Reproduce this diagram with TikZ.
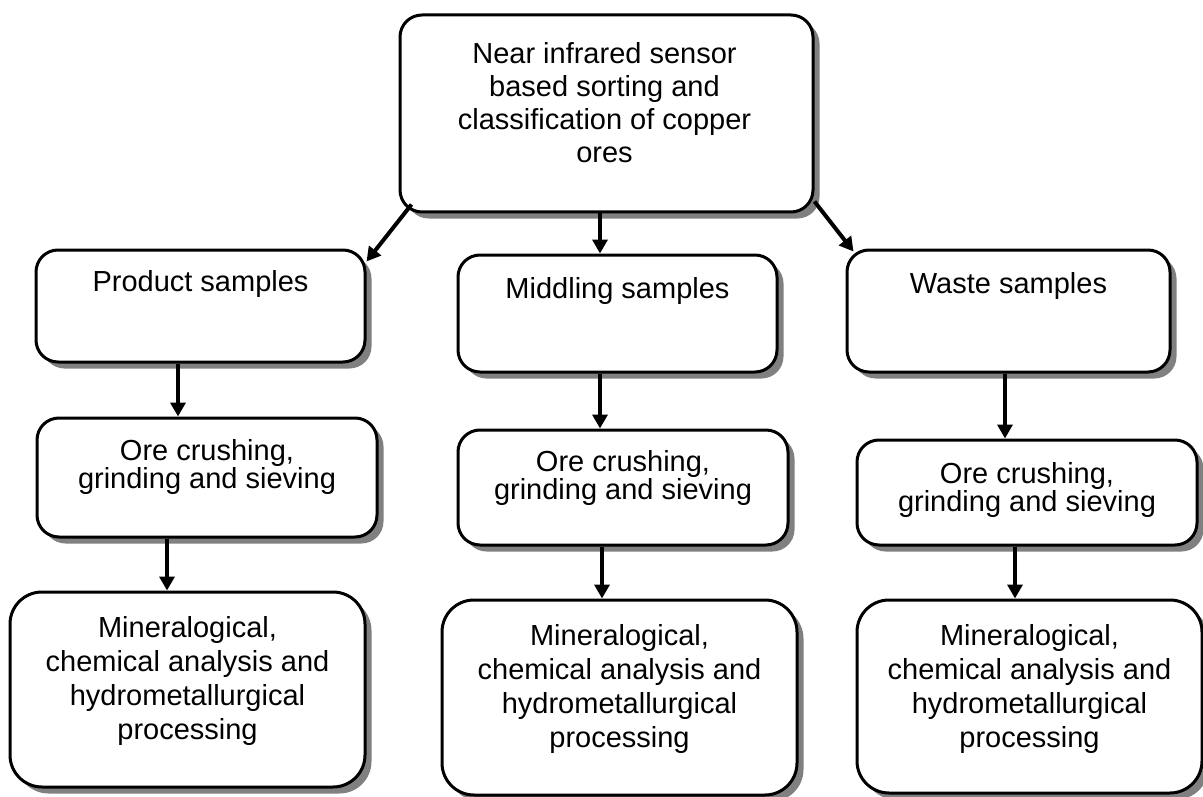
\documentclass[tikz,border=0pt]{standalone}
\usepackage{fontspec}
\setmainfont{Liberation Sans}
\usetikzlibrary{shadows,arrows.meta}
\begin{document}
\begin{tikzpicture}[x=1pt,y=-1pt,
  box/.style={draw, line width=3pt, rounded corners=22pt, fill=white, inner sep=0pt,
    drop shadow={shadow xshift=6.5pt, shadow yshift=-6.5pt, fill=black!50, opacity=1}},
  bigbox/.style={box, rounded corners=32pt},
  txt/.style={anchor=north, align=center, inner sep=0pt, font=\fontsize{29}{33}\selectfont},
  txtc/.style={txt, font=\fontsize{29}{28}\selectfont},
  txtm/.style={txt, font=\fontsize{29}{34}\selectfont},
  arr/.style={line width=4pt, -{Triangle[width=15pt,length=14pt]}}]
\useasboundingbox (0,0) rectangle (1203,797);
% boxes
\node[box, minimum width=413pt, minimum height=197pt] (top) at (606.5,113.5) {};
\node[box, minimum width=329pt, minimum height=112pt] (prod) at (200.5,306) {};
\node[box, minimum width=319pt, minimum height=117pt] (mid) at (617.5,313.5) {};
\node[box, minimum width=323pt, minimum height=122pt] (waste) at (1008.5,311) {};
\node[box, minimum width=340pt, minimum height=119pt] (crushP) at (207,477.5) {};
\node[box, minimum width=330pt, minimum height=115pt] (crushM) at (623,487.5) {};
\node[box, minimum width=340pt, minimum height=105pt] (crushW) at (1027,492.5) {};
\node[bigbox, minimum width=355pt, minimum height=195pt] (minP) at (187.5,689.5) {};
\node[bigbox, minimum width=355pt, minimum height=195pt] (minM) at (619.5,697.5) {};
\node[bigbox, minimum width=345pt, minimum height=193pt] (minW) at (1029.5,696.5) {};
% texts
\node[txt] (ttop) at ([xshift=-2pt,yshift=-29pt]top.north) {Near infrared sensor\\based sorting and\\classification of copper\\ores};
\node[txt] (tprod) at ([yshift=-22pt]prod.north) {Product samples};
\node[txt] (tmid) at ([yshift=-24pt]mid.north) {Middling samples};
\node[txt] (twaste) at ([yshift=-24pt]waste.north) {Waste samples};
\node[txtc] (tcP) at ([yshift=-23pt]crushP.north) {Ore crushing,\\grinding and sieving};
\node[txtc] (tcM) at ([yshift=-22pt]crushM.north) {Ore crushing,\\grinding and sieving};
\node[txtc] (tcW) at ([yshift=-24pt]crushW.north) {Ore crushing,\\grinding and sieving};
\node[txtm] (tmP) at ([yshift=-26pt]minP.north) {Mineralogical,\\chemical analysis and\\hydrometallurgical\\processing};
\node[txtm] (tmM) at ([yshift=-26pt]minM.north) {Mineralogical,\\chemical analysis and\\hydrometallurgical\\processing};
\node[txtm] (tmW) at ([yshift=-26pt]minW.north) {Mineralogical,\\chemical analysis and\\hydrometallurgical\\processing};
% connectors
\draw[arr] ([xshift=13pt,yshift=9pt]top.south west) -- ([yshift=-13pt]prod.north east);
\draw[arr] ([yshift=12pt]top.south east) -- ([xshift=8pt,yshift=-3pt]waste.north west);
\draw[arr] ([xshift=-6.5pt]top.south) -- ([xshift=-6.5pt]top.south |- mid.north);
\draw[arr] ([xshift=-22.5pt]prod.south) -- ([xshift=-22.5pt]prod.south |- crushP.north);
\draw[arr] ([xshift=-17.5pt]mid.south) -- ([xshift=-17.5pt]mid.south |- crushM.north);
\draw[arr] ([xshift=-3.5pt]waste.south) -- ([xshift=-3.5pt]waste.south |- crushW.north);
\draw[arr] ([xshift=-40pt]crushP.south) -- ([xshift=-40pt]crushP.south |- minP.north);
\draw[arr] ([xshift=-21pt]crushM.south) -- ([xshift=-21pt]crushM.south |- minM.north);
\draw[arr] ([xshift=-12pt]crushW.south) -- ([xshift=-12pt]crushW.south |- minW.north);
\end{tikzpicture}
\end{document}
